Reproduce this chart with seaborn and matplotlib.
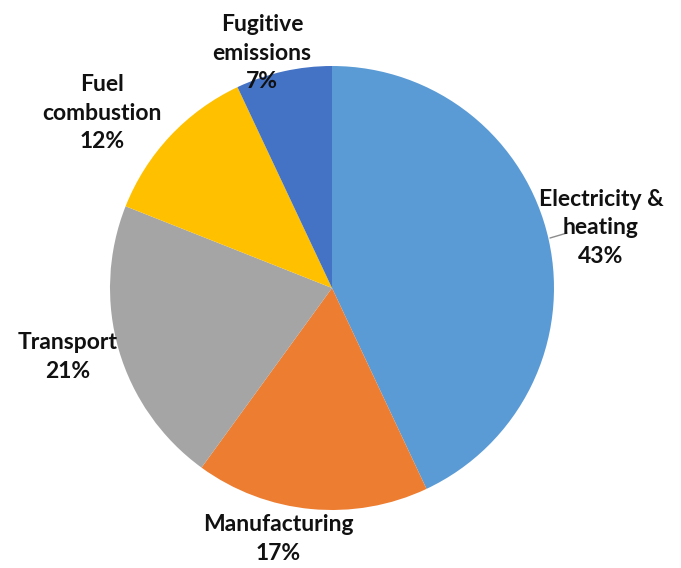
import matplotlib
matplotlib.use("Agg")
import matplotlib.pyplot as plt
import seaborn as sns

# Emission sources and their shares (percent)
sectors = ["Electricity &\nheating", "Manufacturing", "Transport", "Fuel\ncombustion", "Fugitive\nemissions"]
shares = [43, 17, 21, 12, 7]
colors = ["#5B9BD5", "#ED7D31", "#A5A5A5", "#FFC000", "#4472C4"]

sns.set_theme(style="white")
plt.rcParams["font.family"] = ["Lato", "DejaVu Sans"]

W, H = 681, 568
fig = plt.figure(figsize=(W / 100, H / 100), dpi=100)
ax = fig.add_axes([0, 0, 1, 1])

cx, cy, r = 332, H - 288, 222
ax.pie(shares, colors=colors, startangle=90, counterclock=False,
       center=(cx, cy), radius=r, frame=True,
       wedgeprops=dict(linewidth=0))
ax.set_xlim(0, W)
ax.set_ylim(0, H)
ax.set_aspect("equal")
ax.axis("off")

# label anchors (pixel coords from top-left), centred text
label_pos = [(601, 228), (278, 539), (68, 357), (102, 113), (262, 53)]
for name, val, (x, y) in zip(sectors, shares, label_pos):
    ax.text(x, H - y, f"{name}\n{val}%", ha="center", va="center",
            fontsize=16.5, fontweight="bold", color="#111111", linespacing=1.45)

# leader line for the largest slice
ax.plot([550, 567], [H - 238, H - 233], color="#8c8c8c", lw=1)

fig.savefig("out.png", dpi=100, facecolor="white")
